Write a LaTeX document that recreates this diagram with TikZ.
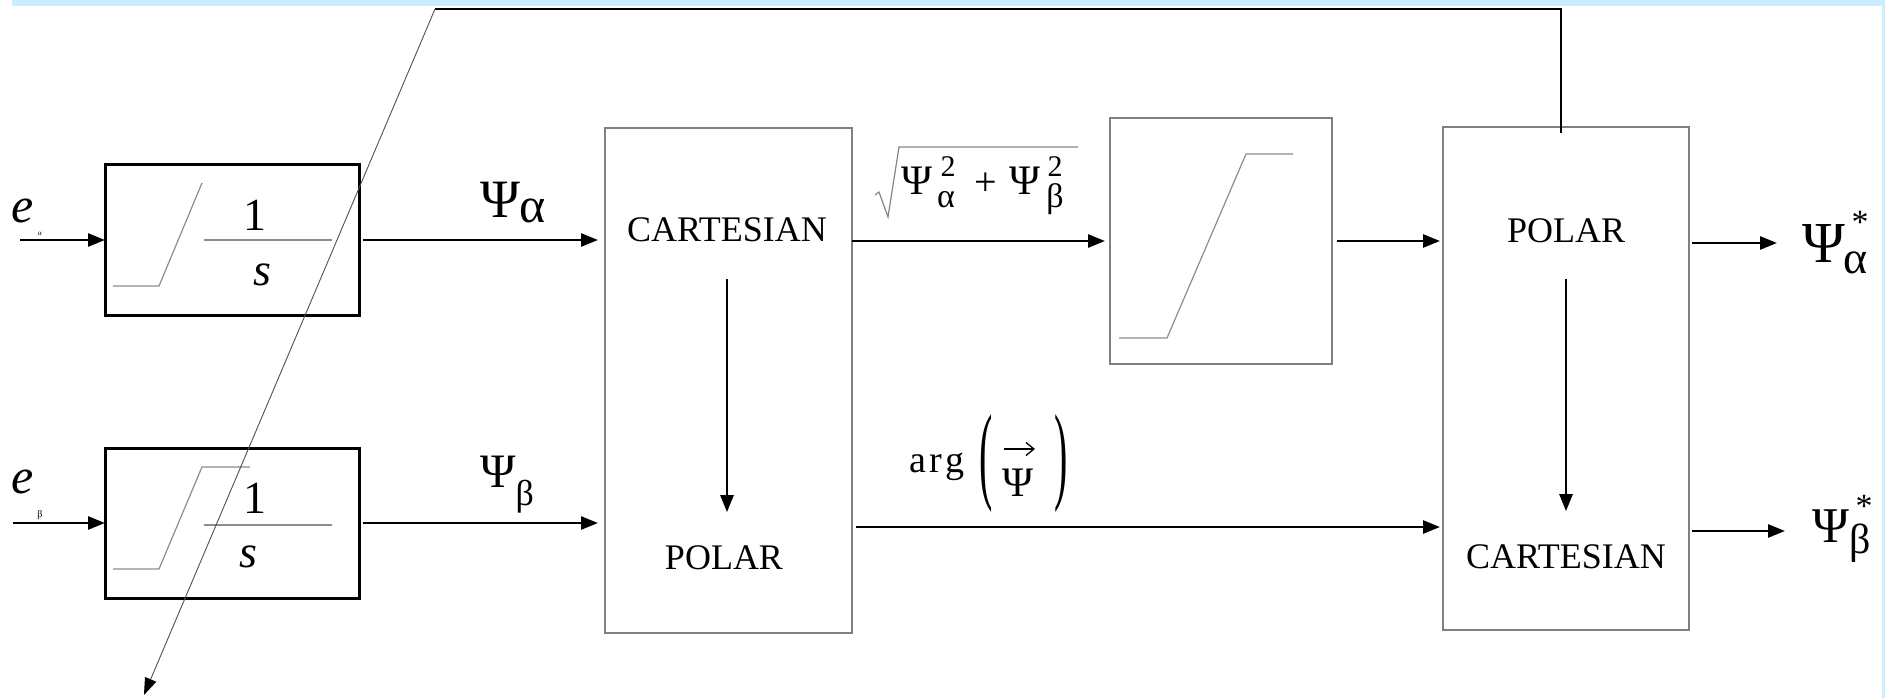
\documentclass[tikz,border=0pt]{standalone}
\usepackage{fontspec}
\setmainfont{Liberation Serif}
\usepackage{graphicx}
\usetikzlibrary{arrows.meta}
\definecolor{bandblue}{RGB}{204,236,255}
\definecolor{boxgray}{RGB}{128,128,128}
\definecolor{curvegray}{RGB}{140,140,140}
\definecolor{diaggray}{RGB}{80,80,80}
\newcommand\fsz[1]{\fontsize{#1}{#1}\selectfont}
\begin{document}
\begin{tikzpicture}[x=1pt,y=-1pt,
  every node/.style={inner sep=0pt,outer sep=0pt},
  thk/.style={line width=2.6pt},
  arr/.style={thk,-{Triangle[length=17pt,width=13pt]}},
  intbox/.style={draw=black,line width=3pt,minimum width=254pt,minimum height=150pt},
  graybox/.style={draw=boxgray,line width=1.3pt},
  curve/.style={draw=curvegray,line width=1.2pt},
  diag/.style={draw=diaggray,line width=0.9pt,-{Triangle[length=17pt,width=12pt,color=black]}},
  captxt/.style={font=\fsz{36},anchor=base},
  num/.style={font=\fsz{46},anchor=base},
  lbl/.style={font=\fsz{30},anchor=base},
  lblpsi/.style={font=\fsz{42},anchor=base},
  lblsub/.style={font=\fsz{34},anchor=base}
]
\useasboundingbox (0,0) rectangle (1885,698);
\fill[bandblue] (12,0) rectangle (1885,6);
\fill[bandblue] (1882,6) rectangle (1885,698);

% integrators
\node[intbox] (int1) at (232,240) {};
\node[intbox] (int2) at (232,523) {};
\draw[curve] (113,286) -- (159,286) -- (202,183);
\draw[curve] (204,240) -- (332,240);
\node[num] (one1) at (255,230) {1};
\node[num] (s1) at (262,285) {\itshape s};
\draw[curve] (113,569) -- (159,569) -- (202,467) -- (250,467);
\draw[curve] (204,525) -- (332,525);
\node[num] (one2) at (255,513) {1};
\node[num] (s2) at (248,567) {\itshape s};

% inputs
\node[font=\fsz{50}\itshape,anchor=base] (ealab) at (23,222) {e};
\node[font=\fsz{7},anchor=base] (easub) at (40,235) {α};
\node[font=\fsz{50}\itshape,anchor=base] (eblab) at (23,493) {e};
\node[font=\fsz{10},anchor=base] (ebsub) at (40,517) {β};
\coordinate (ea) at (20,240);
\coordinate (eb) at (13,523);
\draw[arr] (ea) -- (int1.west);
\draw[arr] (eb) -- (int2.west);

% cartesian -> polar block
\node[graybox,minimum width=247pt,minimum height=505pt] (cp1) at (728.5,380.5) {};
\node[captxt] (cart1) at (727,241) {CARTESIAN};
\node[captxt] (pol1) at (724,569) {POLAR};
\draw[arr,shorten <=38pt,shorten >=33pt] (cart1.south) -- (cart1.south |- pol1.north);

% labels psi alpha / beta
\node[font=\fsz{54},anchor=base] (psia) at (500,217) {Ψ};
\node[font=\fsz{50},anchor=base west,yshift=-5pt] (psiasub) at (psia.base east) {α};
\node[font=\fsz{48},anchor=base] (psib) at (498,487) {Ψ};
\node[font=\fsz{36},anchor=base west,yshift=-18pt] (psibsub) at (psib.base east) {β};
\draw[arr,shorten <=4pt,shorten >=7pt] (int1.east) -- (int1.east -| cp1.west);
\draw[arr,shorten <=4pt,shorten >=7pt] (int2.east) -- (int2.east -| cp1.west);

% saturation block
\node[graybox,minimum width=222pt,minimum height=246pt] (sat) at (1221,241) {};
\draw[curve] (1119,338) -- (1167,338) -- (1246,154) -- (1293,154);
\draw[arr,shorten >=5pt] (sat.west -| cp1.east) -- (sat.west);

% sqrt label
\draw[curve,draw=diaggray!70] (875,195) -- (879,192) -- (888,217) -- (899,147) -- (1078,147);
\node[lblpsi] (sqpsi1) at (917,194) {Ψ};
\node[lblsub] (sqa) at (946,207) {α};
\node[lbl] (sq2a) at (948,176) {2};
\node[font=\fsz{40},anchor=base] (sqplus) at (986,195) {+};
\node[lblpsi] (sqpsi2) at (1025,194) {Ψ};
\node[lblsub] (sqb) at (1055,207) {β};
\node[lbl] (sq2b) at (1055,176) {2};

% polar -> cartesian block
\node[graybox,minimum width=246pt,minimum height=503pt] (pc2) at (1566,378.5) {};
\node[captxt] (pol2) at (1566,242) {POLAR};
\node[captxt] (cart2) at (1566,568) {CARTESIAN};
\draw[arr,shorten <=37pt,shorten >=33pt] (pol2.south) -- (pol2.south |- cart2.north);
\draw[arr,shorten <=5pt,shorten >=3pt] (sat.east) -- (sat.east -| pc2.west);

% arg label and arrow
\node[font=\fsz{38},anchor=base west] (argtxt) at (909,472) {a\hspace{3.5pt}r\hspace{3.5pt}g};
\node[font=\fsz{40}] (lpar) at (986,464) {\scalebox{1}[2.7]{(}};
\node[font=\fsz{40}] (rpar) at (1061,464) {\scalebox{1}[2.7]{)}};
\node[font=\fsz{42},anchor=base] (argpsi) at (1018,496) {Ψ};
\draw[line width=1.3pt,-{Straight Barb[length=8pt,width=13pt]}] (1004,449) -- (1035,449);
\coordinate (argy) at (856,527);
\draw[arr,shorten >=3pt] (argy) -- (argy -| pc2.west);

% outputs
\coordinate (outa) at (1777,243);
\coordinate (outb) at (1785,531);
\draw[arr,shorten <=3pt] (outa -| pc2.east) -- (outa);
\draw[arr,shorten <=3pt] (outb -| pc2.east) -- (outb);
\node[font=\fsz{58},anchor=base] (psiao) at (1824,262) {Ψ};
\node[font=\fsz{46},anchor=base west] (psiaosub) at (1843,273) {α};
\node[font=\fsz{34}] (psiastar) at (1860,222) {*};
\node[font=\fsz{50},anchor=base] (psibo) at (1831,542) {Ψ};
\node[font=\fsz{42},anchor=base west] (psibosub) at (1849,553) {β};
\node[font=\fsz{34}] (psibstar) at (1864,506) {*};

% feedback
\coordinate (fbcorner) at (435,9);
\coordinate (fbend) at (144,695);
\draw[thk] ([xshift=-5pt,yshift=-6pt]pc2.north) |- (fbcorner);
\draw[diag] (fbcorner) -- (fbend);
\end{tikzpicture}
\end{document}
